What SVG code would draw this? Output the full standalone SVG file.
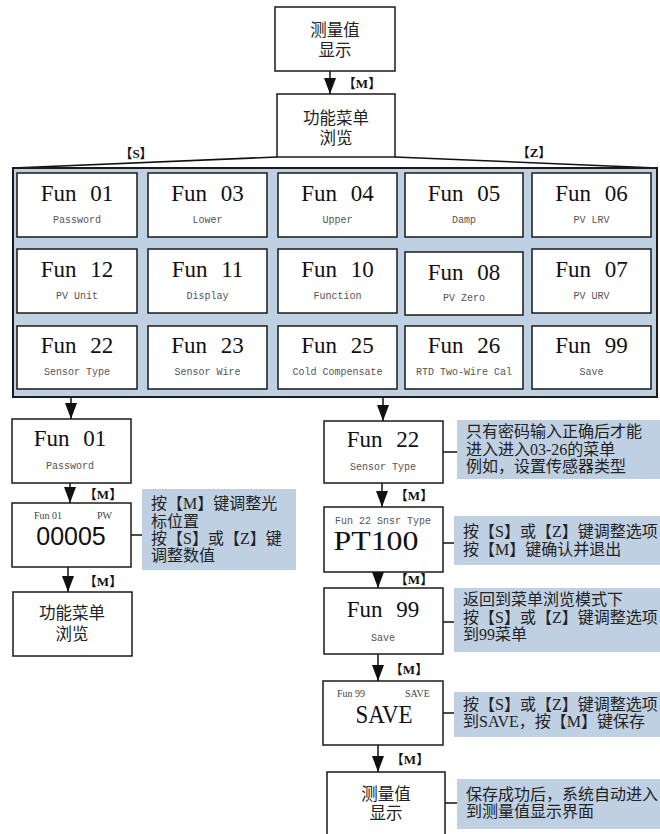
<svg xmlns="http://www.w3.org/2000/svg" width="660" height="834" viewBox="0 0 660 834">
<defs>
<marker id="ah" markerUnits="userSpaceOnUse" markerWidth="16" markerHeight="12" viewBox="0 0 16 12" refX="16" refY="6" orient="auto"><path d="M0,0 L16,6 L0,12 z" fill="#111"/></marker>
</defs>
<style>
.box{fill:#fff;stroke:#1a1a1a;stroke-width:1.5}
.panel{fill:#BFD0E2;stroke:#1a1a1a;stroke-width:2}
.note{fill:#BFD0E2}
.t{font-family:"Liberation Serif",serif;font-size:23px;fill:#111;text-anchor:middle;word-spacing:8px}
.s{font-family:"Liberation Mono",monospace;font-size:10px;fill:#555;text-anchor:middle}
.h{font-family:"Liberation Serif",serif;font-size:10px;fill:#444}
.cn{font-family:"Liberation Serif","Noto Sans CJK SC",sans-serif;font-size:16.5px;fill:#222;text-anchor:middle}
.nt{font-family:"Liberation Serif","Noto Sans CJK SC",sans-serif;font-size:16px;fill:#222}
.k{font-family:"Liberation Serif","Noto Sans CJK SC",sans-serif;font-size:13px;font-weight:bold;fill:#111;text-anchor:middle}
.c{stroke:#111;stroke-width:1.5;fill:none}
.a{stroke:#111;stroke-width:1.5;fill:none;marker-end:url(#ah)}
</style>

<g id="connectors">
<line class="c" x1="277" y1="157" x2="13" y2="168"/>
<line class="c" x1="395" y1="157" x2="657" y2="168"/>
<line class="a" x1="330" y1="71" x2="330" y2="94"/>
<line class="a" x1="71" y1="397" x2="71" y2="419"/>
<line class="a" x1="70" y1="483" x2="70" y2="503"/>
<line class="a" x1="68" y1="567" x2="68" y2="592"/>
<line class="a" x1="383" y1="389" x2="383" y2="421"/>
<line class="a" x1="382" y1="483" x2="382" y2="507"/>
<line class="a" x1="378" y1="572" x2="378" y2="588"/>
<line class="a" x1="378" y1="654" x2="378" y2="681"/>
<line class="a" x1="378" y1="745" x2="378" y2="772"/>
<line class="c" x1="131" y1="535" x2="142" y2="535"/>
<line class="c" x1="443" y1="452" x2="457" y2="452"/>
<line class="c" x1="443" y1="543" x2="454" y2="543"/>
<line class="c" x1="443" y1="622" x2="454" y2="622"/>
<line class="c" x1="443" y1="713" x2="454" y2="713"/>
<line class="c" x1="445" y1="803" x2="457" y2="803"/>
<text class="k" x="362" y="88">【M】</text>
<text class="k" x="136" y="158">【S】</text>
<text class="k" x="534" y="157">【Z】</text>
<text class="k" x="103" y="499">【M】</text>
<text class="k" x="103" y="586">【M】</text>
<text class="k" x="414" y="500">【M】</text>
<text class="k" x="414" y="584">【M】</text>
<text class="k" x="409" y="674">【M】</text>
<text class="k" x="410" y="764">【M】</text>
</g>

<g id="n-measure-top"><rect class="box" x="275" y="7" width="120" height="64"/><text class="cn" x="335" y="36">测量值</text><text class="cn" x="335" y="56">显示</text></g>
<g id="n-menu-top"><rect class="box" x="277" y="94" width="118" height="63"/><text class="cn" x="336" y="124">功能菜单</text><text class="cn" x="336" y="144">浏览</text></g>

<g id="panel"><rect class="panel" x="13" y="168" width="644" height="229"/></g>

<g id="g01"><rect class="box" x="17" y="173" width="120" height="64"/><text class="t" x="77" y="201">Fun 01</text><text class="s" x="77" y="223">Password</text></g>
<g id="g03"><rect class="box" x="148" y="173" width="119" height="64"/><text class="t" x="207.5" y="201">Fun 03</text><text class="s" x="207.5" y="223">Lower</text></g>
<g id="g04"><rect class="box" x="278" y="173" width="119" height="64"/><text class="t" x="337.5" y="201">Fun 04</text><text class="s" x="337.5" y="223">Upper</text></g>
<g id="g05"><rect class="box" x="405" y="173" width="118" height="64"/><text class="t" x="464" y="201">Fun 05</text><text class="s" x="464" y="223">Damp</text></g>
<g id="g06"><rect class="box" x="532" y="173" width="119" height="64"/><text class="t" x="591.5" y="201">Fun 06</text><text class="s" x="591.5" y="223">PV LRV</text></g>

<g id="g12"><rect class="box" x="17" y="249" width="120" height="64"/><text class="t" x="77" y="277">Fun 12</text><text class="s" x="77" y="299">PV Unit</text></g>
<g id="g11"><rect class="box" x="148" y="249" width="119" height="64"/><text class="t" x="207.5" y="277">Fun 11</text><text class="s" x="207.5" y="299">Display</text></g>
<g id="g10"><rect class="box" x="278" y="249" width="119" height="64"/><text class="t" x="337.5" y="277">Fun 10</text><text class="s" x="337.5" y="299">Function</text></g>
<g id="g08"><rect class="box" x="405" y="252" width="118" height="63"/><text class="t" x="464" y="280">Fun 08</text><text class="s" x="464" y="301">PV Zero</text></g>
<g id="g07"><rect class="box" x="532" y="249" width="119" height="64"/><text class="t" x="591.5" y="277">Fun 07</text><text class="s" x="591.5" y="299">PV URV</text></g>

<g id="g22"><rect class="box" x="17" y="326" width="120" height="63"/><text class="t" x="77" y="353">Fun 22</text><text class="s" x="77" y="375">Sensor Type</text></g>
<g id="g23"><rect class="box" x="148" y="326" width="119" height="63"/><text class="t" x="207.5" y="353">Fun 23</text><text class="s" x="207.5" y="375">Sensor Wire</text></g>
<g id="g25"><rect class="box" x="278" y="326" width="119" height="63"/><text class="t" x="337.5" y="353">Fun 25</text><text class="s" x="337.5" y="375">Cold Compensate</text></g>
<g id="g26"><rect class="box" x="405" y="326" width="118" height="63"/><text class="t" x="464" y="353">Fun 26</text><text class="s" x="464" y="375">RTD Two-Wire Cal</text></g>
<g id="g99"><rect class="box" x="532" y="326" width="119" height="63"/><text class="t" x="591.5" y="353">Fun 99</text><text class="s" x="591.5" y="375">Save</text></g>

<g id="l-fun01"><rect class="box" x="12" y="419" width="119" height="64"/><text class="t" x="70" y="446">Fun 01</text><text class="s" x="70" y="469">Password</text></g>
<g id="l-pw"><rect class="box" x="12" y="503" width="119" height="64"/><text class="h" x="34" y="519">Fun 01</text><text class="h" x="97" y="519">PW</text><text x="71" y="545" font-family="Liberation Sans, sans-serif" font-size="25" fill="#111" text-anchor="middle">00005</text></g>
<g id="l-menu"><rect class="box" x="13" y="592" width="119" height="64"/><text class="cn" x="72" y="619">功能菜单</text><text class="cn" x="72" y="640">浏览</text></g>
<g id="l-note"><rect class="note" x="142" y="489" width="154" height="81"/><text class="nt" x="151" y="509">按【M】键调整光</text><text class="nt" x="151" y="527">标位置</text><text class="nt" x="151" y="544">按【S】或【Z】键</text><text class="nt" x="151" y="561">调整数值</text></g>

<g id="r-fun22"><rect class="box" x="324" y="421" width="119" height="62"/><text class="t" x="383" y="447">Fun 22</text><text class="s" x="383" y="470">Sensor Type</text></g>
<g id="r-note1"><rect class="note" x="457" y="420" width="203" height="59"/><text class="nt" x="466" y="437">只有密码输入正确后才能</text><text class="nt" x="466" y="455">进入进入03-26的菜单</text><text class="nt" x="466" y="472">例如，设置传感器类型</text></g>
<g id="r-pt100"><rect class="box" x="324" y="507" width="119" height="65"/><text class="s" x="383" y="524">Fun 22 Snsr Type</text><text x="376" y="550" font-family="Liberation Serif, serif" font-size="27" fill="#111" text-anchor="middle" textLength="85" lengthAdjust="spacingAndGlyphs">PT100</text></g>
<g id="r-note2"><rect class="note" x="454" y="516" width="206" height="49"/><text class="nt" x="463" y="537">按【S】或【Z】键调整选项</text><text class="nt" x="463" y="555">按【M】键确认并退出</text></g>
<g id="r-fun99"><rect class="box" x="324" y="588" width="119" height="66"/><text class="t" x="383" y="617">Fun 99</text><text class="s" x="383" y="641">Save</text></g>
<g id="r-note3"><rect class="note" x="454" y="588" width="206" height="64"/><text class="nt" x="463" y="605">返回到菜单浏览模式下</text><text class="nt" x="463" y="623">按【S】或【Z】键调整选项</text><text class="nt" x="463" y="640">到99菜单</text></g>
<g id="r-save"><rect class="box" x="323" y="681" width="120" height="64"/><text class="h" x="337" y="697" font-size="8.5">Fun 99</text><text class="h" x="405" y="697" font-size="8.5">SAVE</text><text x="384" y="723" font-family="Liberation Serif, serif" font-size="26" fill="#111" text-anchor="middle" textLength="57" lengthAdjust="spacingAndGlyphs">SAVE</text></g>
<g id="r-note4"><rect class="note" x="454" y="692" width="206" height="45"/><text class="nt" x="463" y="710">按【S】或【Z】键调整选项</text><text class="nt" x="463" y="727">到SAVE，按【M】键保存</text></g>
<g id="r-measure"><rect class="box" x="327" y="772" width="118" height="80"/><text class="cn" x="386" y="800">测量值</text><text class="cn" x="386" y="819">显示</text></g>
<g id="r-note5"><rect class="note" x="457" y="779" width="203" height="50"/><text class="nt" x="466" y="800">保存成功后，系统自动进入</text><text class="nt" x="466" y="817">到测量值显示界面</text></g>
</svg>
